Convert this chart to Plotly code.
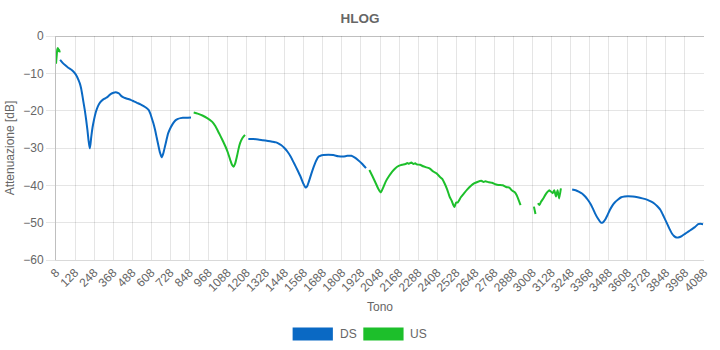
import plotly.graph_objects as go

# ---------------- data ----------------
ds_tone = [34, 50, 65, 85, 107, 125, 138, 150, 158, 166, 172, 180, 189, 198, 206, 213, 220, 225, 230, 238,
           247, 258, 271, 286, 302, 318, 333, 345, 354, 370, 385, 395, 405, 420, 436, 456, 478, 498, 518,
           540, 560, 578, 591, 602, 611, 622, 632, 642, 652, 663, 673, 683, 694, 704, 714, 730, 745, 760,
           776, 792, 807, 830, 858,
           None,
           1219, 1250, 1281, 1310, 1343, 1370, 1394, 1410, 1425, 1446, 1466, 1487, 1507, 1528, 1548, 1565,
           1579, 1590, 1600, 1615, 1631, 1646, 1662, 1677, 1692, 1723, 1754, 1785, 1816, 1842, 1868, 1890,
           1909, 1935, 1960,
           None,
           3258, 3280, 3299, 3320, 3340, 3355, 3371, 3387, 3402, 3420, 3439, 3452, 3464, 3480, 3495, 3510,
           3526, 3547, 3567, 3588, 3608, 3640, 3670, 3700, 3732, 3753, 3773, 3794, 3814, 3834, 3855, 3870,
           3886, 3900, 3917, 3932, 3948, 3968, 3989, 4010, 4030, 4051, 4065, 4082]
ds_db = [-6.4, -7.2, -7.8, -8.5, -9.1, -9.9, -10.7, -11.8, -12.7, -14.0, -15.4, -17.5, -19.8, -22.5, -25.2,
         -28.0, -30.1, -29.0, -27.0, -24.5, -22.5, -20.5, -18.9, -17.8, -17.1, -16.7, -16.3, -15.8, -15.5,
         -15.2, -15.1, -15.2, -15.4, -16.1, -16.5, -16.8, -17.1, -17.5, -17.9, -18.3, -18.8, -19.3, -19.8,
         -20.8, -22.0, -23.5, -25.2, -27.2, -29.2, -31.3, -32.5, -31.5, -29.6, -27.8, -26.1, -24.5, -23.4,
         -22.6, -22.2, -22.0, -21.9, -21.9, -21.8,
         None,
         -27.6, -27.6, -27.7, -27.9, -28.1, -28.3, -28.5, -28.8, -29.2, -30.0, -31.0, -32.4, -34.1, -35.9,
         -37.7, -39.5, -40.6, -40.2, -39.0, -37.0, -35.0, -33.4, -32.3, -32.0, -31.9, -31.8, -31.9, -32.2,
         -32.3, -32.1, -32.1, -32.6, -33.2, -34.2, -35.4,
         None,
         -41.1, -41.3, -41.7, -42.2, -43.0, -43.8, -44.8, -46.1, -47.5, -48.9, -50.0, -49.9, -49.3, -48.0,
         -46.6, -45.5, -44.6, -43.8, -43.2, -43.0, -42.9, -43.0, -43.2, -43.5, -43.9, -44.3, -44.8, -45.6,
         -46.6, -48.3, -50.2, -51.6, -52.9, -53.6, -54.0, -53.9, -53.6, -53.0, -52.4, -51.8, -51.2, -50.4,
         -50.3, -50.4]

us_tone = [8, 12, 16, 20, 24, 28, 32,
           None,
           875, 900, 930, 960, 992, 1012, 1034, 1055, 1075, 1090, 1105, 1116, 1126, 1136, 1147, 1157, 1167,
           1182, 1198,
           None,
           1981, 2000, 2022, 2038, 2053, 2068, 2084, 2105, 2125, 2145, 2166, 2187, 2208, 2220, 2230, 2245,
           2259, 2270, 2280, 2300, 2320, 2341, 2362, 2383, 2404, 2424, 2440, 2455, 2470, 2486, 2500, 2510,
           2517, 2527, 2537, 2557, 2578, 2598, 2619, 2640, 2661, 2686, 2700, 2712, 2733, 2753, 2775, 2795,
           2820, 2846, 2862, 2877, 2895, 2908, 2920, 2933,
           None,
           3017, 3027,
           None,
           3042, 3052, 3062, 3075, 3090, 3104, 3114, 3135, 3145, 3156, 3166, 3176, 3187]
us_db = [-7.4, -5.5, -3.6, -3.2, -4.0, -3.7, -4.4,
         None,
         -20.5, -20.8, -21.3, -22.0, -23.0, -24.2, -26.0, -27.8, -29.6, -31.2, -33.2, -34.5, -35.0, -34.2,
         -32.3, -30.3, -28.7, -27.3, -26.5,
         None,
         -35.9, -37.5, -39.5, -41.0, -41.9, -40.6, -39.0, -37.5, -36.3, -35.4, -34.8, -34.5, -34.3, -34.0,
         -34.2, -33.9, -34.3, -34.1, -34.4, -34.5, -34.9, -35.2, -35.5, -36.3, -36.8, -37.7, -38.3, -39.5,
         -41.0, -43.0, -44.2, -45.3, -45.8, -44.6, -44.6, -43.2, -42.1, -41.1, -40.2, -39.5, -39.1, -38.8,
         -39.1, -38.9, -39.2, -39.3, -39.7, -39.9, -40.0, -40.5, -40.6, -41.3, -41.8, -42.6, -43.8, -45.3,
         None,
         -45.7, -47.7,
         None,
         -44.8, -45.3, -44.4, -43.6, -42.5, -41.7, -41.3, -42.1, -41.3, -43.0, -41.3, -43.5, -40.8]

x_ticks = list(range(8, 4089, 120))
y_ticks = [0, -10, -20, -30, -40, -50, -60]

DS_COLOR = "#0a69c4"
US_COLOR = "#1dbf2b"
TXT = "#666666"
FONT = "Liberation Sans, Arial, Helvetica, sans-serif"

fig = go.Figure()
fig.add_trace(go.Scatter(x=ds_tone, y=ds_db, mode="lines", name="DS",
                         line=dict(color=DS_COLOR, width=2, shape="spline", smoothing=0.5),
                         connectgaps=False, showlegend=False))
fig.add_trace(go.Scatter(x=us_tone, y=us_db, mode="lines", name="US",
                         line=dict(color=US_COLOR, width=2, shape="spline", smoothing=0.5),
                         connectgaps=False, showlegend=False))

# custom legend (box style)
L, W, T, H = 51, 660, 36, 224
def px(x):
    return (x - L) / W
def py(y):
    return (T + H - y) / H

shapes = [
    dict(type="rect", xref="paper", yref="paper", x0=px(292), x1=px(333), y0=py(340.5), y1=py(327.5),
         fillcolor=DS_COLOR, line=dict(width=0)),
    dict(type="rect", xref="paper", yref="paper", x0=px(364), x1=px(405), y0=py(340.5), y1=py(327.5),
         fillcolor=US_COLOR, line=dict(width=0)),
]
annotations = [
    dict(text="DS", xref="paper", yref="paper", x=px(338), y=py(334), xanchor="left", yanchor="middle",
         showarrow=False, font=dict(size=12, color=TXT, family=FONT)),
    dict(text="US", xref="paper", yref="paper", x=px(410), y=py(334), xanchor="left", yanchor="middle",
         showarrow=False, font=dict(size=12, color=TXT, family=FONT)),
]

fig.update_layout(
    width=720, height=350,
    margin=dict(l=L, r=720 - L - W, t=T, b=350 - T - H),
    paper_bgcolor="white", plot_bgcolor="white",
    font=dict(family=FONT, size=12, color=TXT),
    title=dict(text="<b>HLOG</b>", x=0.5, xanchor="center", y=1 - 18 / 350, yanchor="middle",
               font=dict(size=13.5, color=TXT, family=FONT)),
    xaxis=dict(range=[8, 4088], tickmode="array", tickvals=x_ticks, ticktext=[str(t) for t in x_ticks],
               tickangle=-45, showgrid=True, gridcolor="rgba(0,0,0,0.1)", gridwidth=1,
               zeroline=False, showline=True, linecolor="rgba(0,0,0,0.15)", linewidth=1,
               ticks="", tickfont=dict(size=12, color=TXT),
               title=dict(text="Tono", font=dict(size=12, color=TXT), standoff=8)),
    yaxis=dict(range=[-60, 0], tickmode="array", tickvals=y_ticks, showgrid=True,
               gridcolor="rgba(0,0,0,0.1)", gridwidth=1,
               zeroline=True, zerolinecolor="rgba(0,0,0,0.25)", zerolinewidth=1,
               showline=True, linecolor="rgba(0,0,0,0.25)", linewidth=1,
               ticks="outside", ticklen=9, tickcolor="rgba(0,0,0,0.1)",
               tickfont=dict(size=12, color=TXT),
               title=dict(text="Attenuazione [dB]", font=dict(size=12, color=TXT), standoff=6)),
    shapes=shapes, annotations=annotations,
    showlegend=False,
)

fig.write_html("out.html")
